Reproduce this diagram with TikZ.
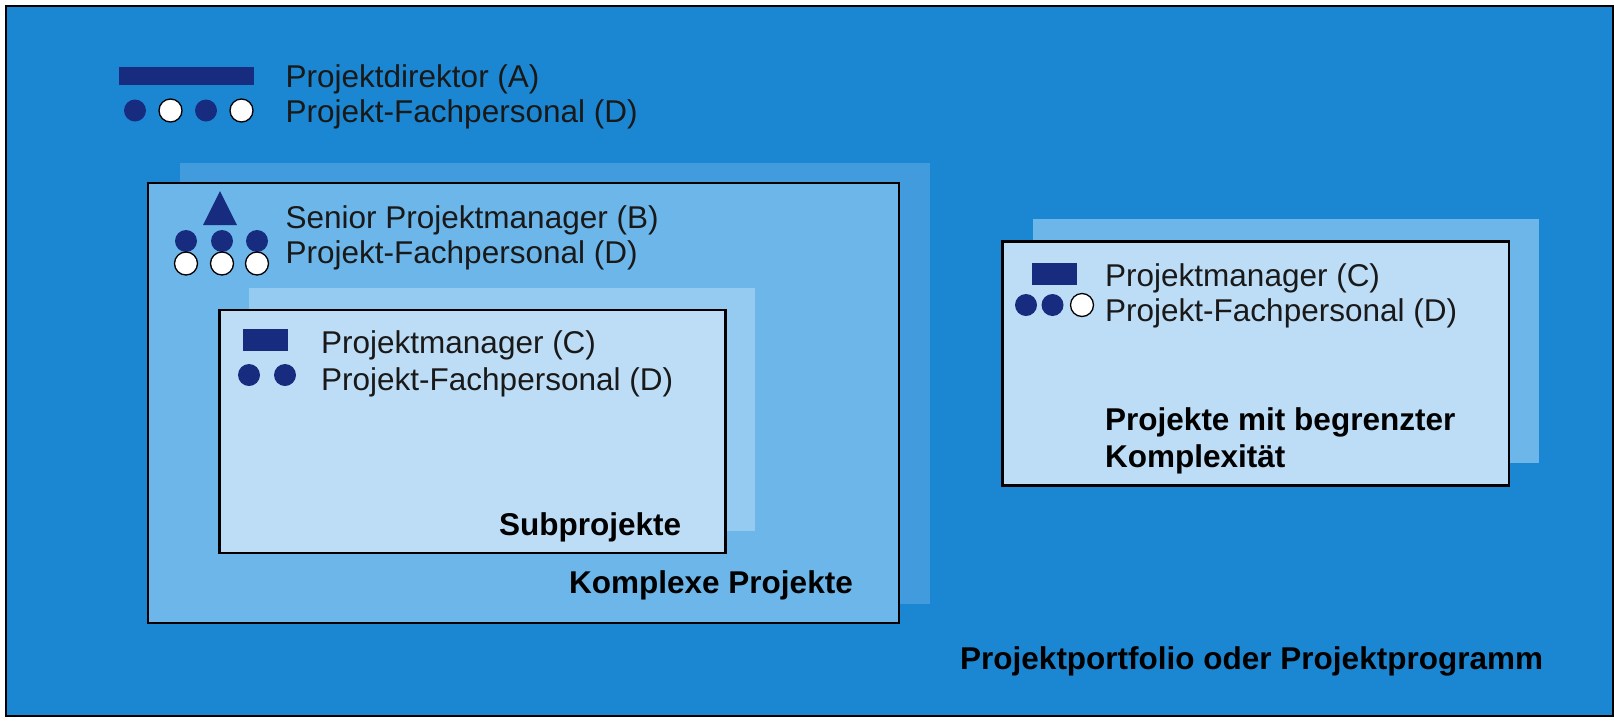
\documentclass[tikz,border=0pt]{standalone}
\usepackage{fontspec}
\setmainfont{Liberation Sans}
\usepackage{tikz}
\usetikzlibrary{positioning,calc}
\definecolor{portfolioblue}{HTML}{1B87D3}
\definecolor{shadeone}{HTML}{429BDD}
\definecolor{boxone}{HTML}{6CB6EA}
\definecolor{shadetwo}{HTML}{95CBF1}
\definecolor{boxtwo}{HTML}{BDDDF7}
\definecolor{navyfill}{HTML}{172C7E}
\tikzset{
	frame/.style={
		rectangle,
		draw=black, line width=2.4pt,
		anchor=north west,
		inner sep=0pt,
		outer sep=0pt,
	},
	shade/.style={
		rectangle,
		anchor=north west,
		inner sep=0pt,
		outer sep=0pt,
	},
	leadbar/.style={
		rectangle,
		fill=navyfill,
		anchor=north west,
		inner sep=0pt,
		outer sep=0pt,
	},
	navydot/.style={
		circle,
		fill=navyfill,
		minimum size=22pt,
		inner sep=0pt,
	},
	whitedot/.style={
		circle,
		fill=white,
		draw=black, line width=1.3pt,
		minimum size=23pt,
		inner sep=0pt,
	},
	label/.style={
		anchor=base west,
		inner sep=0pt,
		text=black!90,
		font=\fontsize{31.5}{36}\selectfont,
	},
	title/.style={
		anchor=base west,
		inner sep=0pt,
		font=\fontsize{31.5}{36}\selectfont\bfseries,
	},
}
\begin{document}
\begin{tikzpicture}[x=1pt,y=-1pt]
	\useasboundingbox (0,0) rectangle (1614,721);
	
	% portfolio frame
	\node[frame,fill=portfolioblue,minimum width=1607pt,minimum height=710pt] (PORTFOLIO) at (6,6) {};
	
	% complex project with its shadow
	\node[shade,fill=shadeone,minimum width=749.5pt,minimum height=441pt] (SHADEB) at (180,163) {};
	\node[frame,fill=boxone,minimum width=751pt,minimum height=440pt] (COMPLEX) at (148,183) {};
	
	% subproject with its shadow
	\node[shade,fill=shadetwo,minimum width=505.5pt,minimum height=243pt] (SHADEC) at (249,288) {};
	\node[frame,fill=boxtwo,minimum width=506pt,minimum height=243pt] (SUB) at (219.5,310) {};
	
	% limited project with its shadow
	\node[shade,fill=boxone,minimum width=505.5pt,minimum height=244pt] (SHADED) at (1033,219) {};
	\node[frame,fill=boxtwo,minimum width=506.5pt,minimum height=244pt] (LIMITED) at (1002.5,241.5) {};
	
	% top group
	\node[leadbar,minimum width=135pt,minimum height=17.5pt] (DIRBAR) at (119,67) {};
	\node[navydot] (topa) at (135,110.5) {};
	\node[whitedot] (topb) at (170.5,110.5) {};
	\node[navydot] (topc) at (206,110.5) {};
	\node[whitedot] (topd) at (241.5,110.5) {};
	\node[label] (DIRTEXT) at (285.5,87) {Projektdirektor (A)};
	\node[label] (DIRSTAFF) at (285.5,122) {Projekt-Fachpersonal (D)};
	
	% senior group
	\fill[navyfill] (203,225) -- (220,191) -- (237,225) -- cycle;
	\foreach \name/\posx in {a/186,b/222,c/257}
	{
		\node[navydot] (snr\name) at (\posx,241) {};
	}
	\foreach \name/\posx in {a/186,b/222,c/257}
	{
		\node[whitedot] (snw\name) at (\posx,263.5) {};
	}
	\node[label] (SENTEXT) at (285.5,228) {Senior Projektmanager (B)};
	\node[label] (SENSTAFF) at (285.5,263.5) {Projekt-Fachpersonal (D)};
	
	% subproject group
	\node[leadbar,minimum width=45pt,minimum height=22pt] (SUBBAR) at (243,329) {};
	\node[navydot] (suba) at (249,375) {};
	\node[navydot] (subb) at (285,375) {};
	\node[label] (SUBTEXT) at (321,353.5) {Projektmanager (C)};
	\node[label] (SUBSTAFF) at (321,390) {Projekt-Fachpersonal (D)};
	
	% limited group
	\node[leadbar,minimum width=45pt,minimum height=22.5pt] (LIMBAR) at (1032,262.5) {};
	\node[navydot] (lima) at (1026,305) {};
	\node[navydot] (limb) at (1052.5,305) {};
	\node[whitedot] (limc) at (1082,305) {};
	\node[label] (LIMTEXT) at (1105,286) {Projektmanager (C)};
	\node[label] (LIMSTAFF) at (1105,321.5) {Projekt-Fachpersonal (D)};
	
	% titles
	\node[title] (SUBTITLE) at (499,535) {Subprojekte};
	\node[title] (COMPTITLE) at (569,593) {Komplexe Projekte};
	\node[title] (LIMTITLEA) at (1105,430.5) {Projekte mit begrenzter};
	\node[title] (LIMTITLEB) at (1105,467) {Komplexität};
	\node[title] (PORTTITLE) at (960,669) {Projektportfolio oder Projektprogramm};
	
\end{tikzpicture}
\end{document}
